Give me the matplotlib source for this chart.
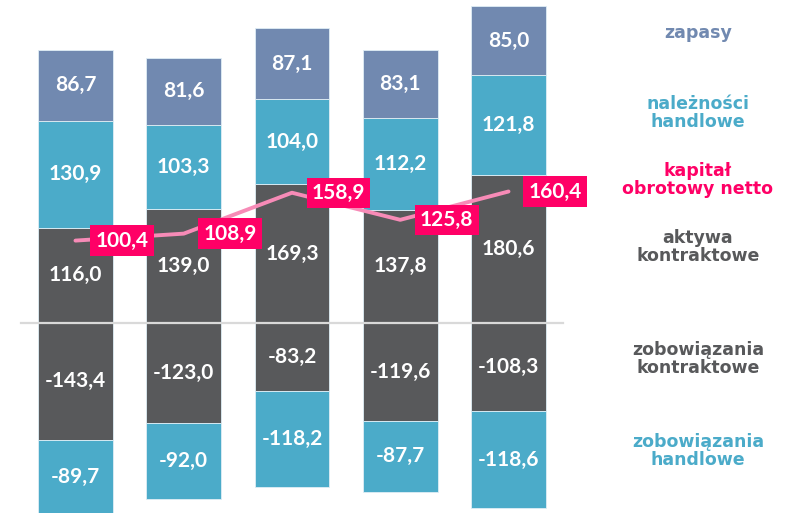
import numpy as np
import matplotlib.pyplot as plt

# dane (mln zl)
zapasy = [86.7, 81.6, 87.1, 83.1, 85.0]
naleznosci = [130.9, 103.3, 104.0, 112.2, 121.8]
aktywa_kontr = [116.0, 139.0, 169.3, 137.8, 180.6]
zobow_kontr = [-143.4, -123.0, -83.2, -119.6, -108.3]
zobow_handl = [-89.7, -92.0, -118.2, -87.7, -118.6]
kapital = [100.4, 108.9, 158.9, 125.8, 160.4]

legend_labels = ['zapasy', 'należności\nhandlowe', 'kapitał\nobrotowy netto',
                 'aktywa\nkontraktowe', 'zobowiązania\nkontraktowe', 'zobowiązania\nhandlowe']

c_zap = '#7189b0'
c_tea = '#4babc9'
c_dark = '#58595b'
c_pink = '#ff0066'
c_line = '#f78bb7'

plt.rcParams['font.family'] = ['Lato', 'DejaVu Sans']

fig = plt.figure(figsize=(7.89, 5.13), dpi=100)
ax = fig.add_axes([0, 0, 1, 1])
ax.set_xlim(-0.697, 6.591)
ax.set_ylim(-232.6, 394.5)
ax.axis('off')

x = np.arange(len(zapasy))
w = 0.69

def fmt(v):
    return ('%.1f' % v).replace('.', ',')

def seg(bottom, vals, color):
    ax.bar(x, vals, w, bottom=bottom, color=color, edgecolor='#dfeef5', linewidth=0.6, zorder=2)
    for xi, b, v in zip(x, bottom, vals):
        ax.text(xi, b + v / 2, fmt(v), ha='center', va='center', color='white',
                fontsize=15, fontweight='bold', zorder=5)

zero = np.zeros(5)
seg(zero, aktywa_kontr, c_dark)
seg(np.array(aktywa_kontr), naleznosci, c_tea)
seg(np.array(aktywa_kontr) + np.array(naleznosci), zapasy, c_zap)
seg(zero, zobow_kontr, c_dark)
seg(np.array(zobow_kontr), zobow_handl, c_tea)

ax.plot([-0.5, 4.5], [0, 0], color='#d9d9d9', lw=1.6, zorder=3)

ax.plot(x, kapital, color=c_line, lw=2.8, zorder=4, solid_capstyle='round')
for xi, v in zip(x, kapital):
    ax.text(xi + 0.43, v, fmt(v), ha='center', va='center', color='white',
            fontsize=15, fontweight='bold', zorder=6,
            bbox=dict(boxstyle='square,pad=0.25', fc=c_pink, ec='none'))

# legenda po prawej
leg_y = [354, 256, 174, 93, -44, -157]
leg_c = [c_zap, c_tea, c_pink, c_dark, c_dark, c_tea]
for lab, yy, cc in zip(legend_labels, leg_y, leg_c):
    ax.text(5.75, yy, lab, ha='center', va='center', color=cc, fontsize=12.5,
            fontweight='bold', linespacing=1.0, family='DejaVu Sans')

fig.savefig('out.png', dpi=100)
